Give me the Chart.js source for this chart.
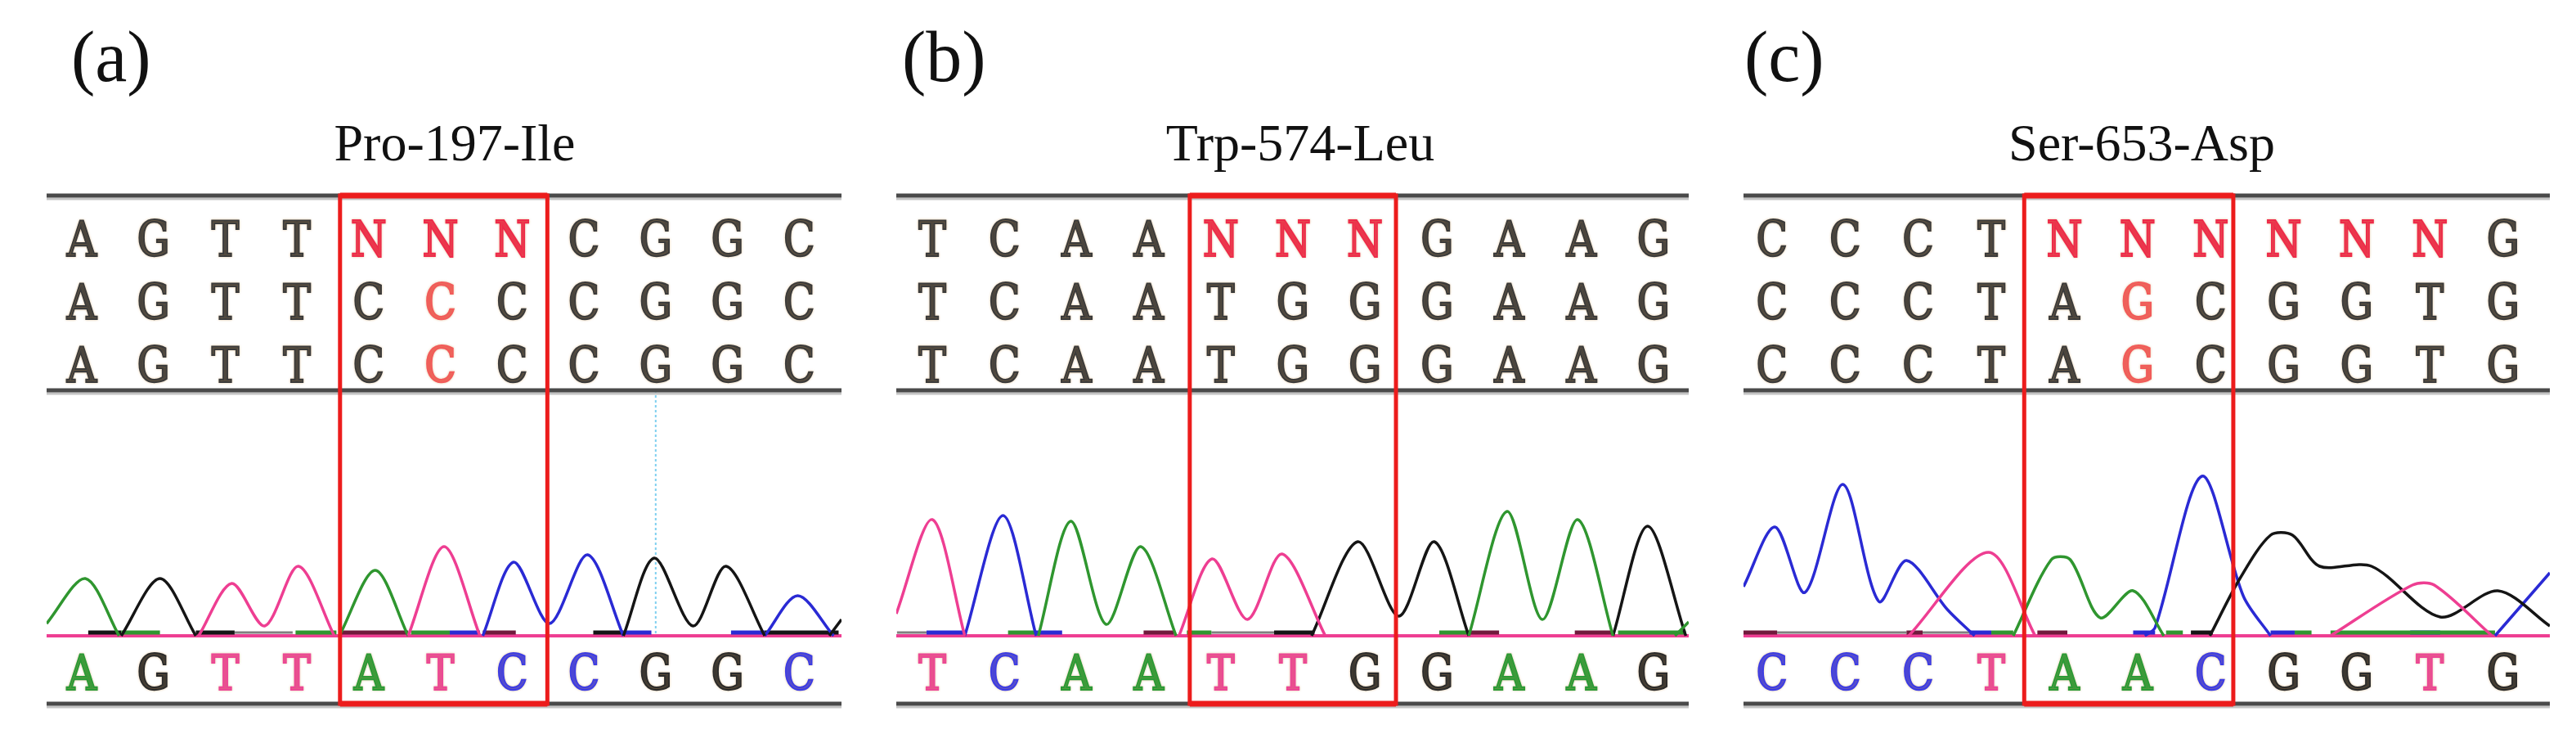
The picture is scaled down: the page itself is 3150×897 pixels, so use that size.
<!DOCTYPE html>
<html>
<head>
<meta charset="utf-8">
<script src="https://cdn.jsdelivr.net/npm/chart.js@4.4.1/dist/chart.umd.min.js"></script>
<style>
  body { margin: 0; background: #fff; width: 3150px; height: 897px; position: relative; overflow: hidden; }
  canvas { position: absolute; }
  .lab { position: absolute; font-family: "Liberation Serif", "Times New Roman", serif; line-height: 1; color: #111; white-space: nowrap; }
  .tag { font-size: 88px; top: 26px; }
  .title { font-size: 64px; top: 143px; width: 600px; text-align: center; }
</style>
</head>
<body>
<div class="lab tag" style="left:87px">(a)</div>
<div class="lab tag" style="left:1103px">(b)</div>
<div class="lab tag" style="left:2133px">(c)</div>
<div class="lab title" style="left:256px">Pro-197-Ile</div>
<div class="lab title" style="left:1290px">Trp-574-Leu</div>
<div class="lab title" style="left:2319px">Ser-653-Asp</div>
<canvas id="chartA"></canvas>
<canvas id="chartB"></canvas>
<canvas id="chartC"></canvas>
<script>
// --- base calls (three reference rows + the read under the trace) ---
const aCalls = ["AGTTNNNCGGC", "AGTTCCCCGGC", "AGTTCCCCGGC"];
const aRead = "AGTTATCCGGC";
const aRedCells = [[1, 5], [2, 5]];
const aMarker = [8];

const bCalls = ["TCAANNNGAAG", "TCAATGGGAAG", "TCAATGGGAAG"];
const bRead = "TCAATTGGAAG";
const bRedCells = [];
const bMarker = [];

const cCalls = ["CCCTNNNNNNG", "CCCTAGCGGTG", "CCCTAGCGGTG"];
const cRead = "CCCTAACGGTG";
const cRedCells = [[1, 5], [2, 5]];
const cMarker = [];

// --- trace peaks: [base position, signal] groups, one array per dye ---
const aTraceA = [[[-0.49, 15], [0.05, 70], [0.52, 0]], [[3.59, 0], [4.09, 80], [4.55, 0]]];
const aTraceG = [[[0.55, 0], [1.09, 70], [1.59, 0]], [[7.55, 0], [7.98, 95], [8.52, 12], [8.98, 85], [9.52, 0]], [[10.42, 0], [10.59, 20]]];
const aTraceT = [[[1.63, 0], [2.09, 64], [2.55, 12], [3.02, 85], [3.52, 0]], [[4.55, 0], [5.05, 109], [5.55, 0]]];
const aTraceC = [[[5.59, 0], [6.02, 90], [6.52, 15], [7.05, 99], [7.55, 0]], [[9.52, 0], [9.98, 49], [10.48, 0]]];

const bTraceA = [[[1.47, 0], [1.92, 140], [2.41, 14], [2.89, 109], [3.38, 0]], [[7.44, 0], [7.97, 152], [8.46, 20], [8.95, 142], [9.44, 0]], [[10.3, 0], [10.49, 17]]];
const bTraceG = [[[5.26, 0], [5.9, 115], [6.47, 24], [6.96, 115], [7.44, 0]], [[9.44, 0], [9.92, 134], [10.45, 0]]];
const bTraceT = [[[-0.5, 27], [0, 142], [0.45, 0]], [[3.42, 0], [3.88, 94], [4.37, 20], [4.85, 100], [5.45, 0]]];
const bTraceC = [[[0.45, 0], [0.98, 147], [1.44, 0]]];

const cTraceA = [[[3.3, 0], [3.82, 93], [4.08, 93], [4.49, 22], [4.94, 55], [5.36, 0]]];
const cTraceG = [[[5.99, 0], [6.4, 70], [6.82, 123], [7.12, 123], [7.49, 85], [8.2, 85], [9.14, 23], [9.93, 55], [10.64, 12]]];
const cTraceT = [[[1.87, 0], [2.96, 102], [3.6, 0]], [[7.64, 0], [8.76, 62], [9.06, 62], [9.85, 0]]];
const cTraceC = [[[-0.39, 60], [0.04, 133], [0.45, 53], [0.97, 185], [1.46, 42], [1.84, 92], [2.4, 32], [2.77, 0]], [[5.1, 0], [5.24, 10], [5.88, 195], [6.45, 48], [6.82, 0]], [[9.89, 0], [10.64, 77]]];

// --- flat stretches of each dye lying on the baseline: [from, to] ---
const aFlatA = [[0.55, 1.09], [2.98, 3.55], [4.59, 5.13]];
const aFlatG = [[0.09, 0.55], [1.59, 2.13], [7.13, 7.55], [9.52, 10.55]];
const aFlatC = [[5.13, 5.55], [7.55, 7.94], [9.05, 9.52]];
const aFlatMix = [[3.59, 4.55], [5.59, 6.05]];
const aFlatGray = [[2.13, 2.94]];

const bFlatA = [[1.05, 1.43], [3.53, 3.87], [7.03, 7.44], [9.51, 10.45]];
const bFlatG = [[4.74, 5.3]];
const bFlatC = [[-0.08, 0.45], [1.43, 1.8]];
const bFlatMix = [[2.93, 3.35], [7.44, 7.86], [8.91, 9.44]];
const bFlatGray = [[-0.49, -0.08], [3.87, 4.74]];

const cFlatA = [[3.0, 3.3], [5.39, 5.62], [7.15, 7.38], [7.64, 9.89]];
const cFlatG = [[5.73, 6.03]];
const cFlatC = [[2.7, 3.0], [4.94, 5.24], [6.82, 7.15], [8.73, 9.14]];
const cFlatMix = [[-0.39, 0.07], [1.84, 2.06], [3.63, 4.04]];
const cFlatGray = [[0.07, 1.84], [2.06, 2.7]];

// layout (px above the trace baseline)
const TOP_LINE = 538, MID_LINE = 300, BOTTOM_LINE = -83;
const ROW_BASE = [464, 387, 310], READ_BASE = -66;
const PANEL_TOP = 239, PAD = 12;

const DYE = { A: "#2f962f", G: "#151515", T: "#ee3e92", C: "#2a2ad4" };
const READ_INK = { A: "#2a9a36", G: "#2b2b2b", T: "#ec4696", C: "#3c3ce4" };
const MIX = "#701a3c", GRAY = "#808080";

const panels = [
  { id: "chartA", left: 57, right: 1029, xMin: -0.49, xMax: 10.59, box: [3.6, 6.49],
    calls: aCalls, read: aRead, red: aRedCells, marker: aMarker,
    traces: { A: aTraceA, G: aTraceG, T: aTraceT, C: aTraceC },
    flats: { A: aFlatA, G: aFlatG, C: aFlatC, mix: aFlatMix, gray: aFlatGray } },
  { id: "chartB", left: 1096, right: 2065, xMin: -0.5, xMax: 10.49, box: [3.57, 6.43],
    calls: bCalls, read: bRead, red: bRedCells, marker: bMarker,
    traces: { A: bTraceA, G: bTraceG, T: bTraceT, C: bTraceC },
    flats: { A: bFlatA, G: bFlatG, C: bFlatC, mix: bFlatMix, gray: bFlatGray } },
  { id: "chartC", left: 2132, right: 3118, xMin: -0.39, xMax: 10.64, box: [3.45, 6.31],
    calls: cCalls, read: cRead, red: cRedCells, marker: cMarker,
    traces: { A: cTraceA, G: cTraceG, T: cTraceT, C: cTraceC },
    flats: { A: cFlatA, G: cFlatG, C: cFlatC, mix: cFlatMix, gray: cFlatGray } },
];

function withGaps(groups) {
  const out = [];
  groups.forEach((g, i) => {
    if (i) out.push([g[0][0], null]);
    out.push(...g);
  });
  return out;
}

function flatSegs(segs, level) {
  const out = [];
  segs.forEach(([s, e]) => out.push([s, level], [e, level], [e, null]));
  return out;
}

function hline(ctx, x0, x1, y) {
  ctx.beginPath();
  ctx.moveTo(x0, y);
  ctx.lineTo(x1, y);
  ctx.stroke();
}

// Courier-ish base letter: normal serif glyph thickened with a thin stroke
function glyph(ctx, ch, x, y, color) {
  ctx.save();
  ctx.translate(x, y);
  ctx.scale(0.84, 1);
  ctx.shadowColor = "rgba(210, 160, 90, 0.45)";
  ctx.shadowBlur = 3;
  ctx.fillStyle = color;
  ctx.strokeStyle = color;
  ctx.lineWidth = 2.2;
  ctx.fillText(ch, 0, 0);
  ctx.strokeText(ch, 0, 0);
  ctx.restore();
}

function seqPlugin(p) {
  return {
    id: "seq",
    beforeDatasetsDraw(chart) {
      const { ctx, scales: { x, y } } = chart;
      ctx.save();
      ctx.strokeStyle = "#7fd0f0";
      ctx.lineWidth = 2;
      ctx.setLineDash([3, 3]);
      p.marker.forEach((m) => {
        const px = x.getPixelForValue(m);
        ctx.beginPath();
        ctx.moveTo(px, y.getPixelForValue(MID_LINE));
        ctx.lineTo(px, y.getPixelForValue(0));
        ctx.stroke();
      });
      ctx.restore();
    },
    afterDatasetsDraw(chart) {
      const { ctx, chartArea: { left, right }, scales: { x, y } } = chart;
      ctx.save();
      // ruled lines
      [TOP_LINE, MID_LINE, BOTTOM_LINE].forEach((v) => {
        const py = y.getPixelForValue(v);
        ctx.strokeStyle = "#c4c4c4";
        ctx.lineWidth = 3;
        hline(ctx, left, right, py + 4);
        ctx.strokeStyle = "#4a4a4a";
        ctx.lineWidth = 5;
        hline(ctx, left, right, py);
      });
      // letters
      ctx.font = '60px "DejaVu Serif"';
      ctx.textAlign = "center";
      ctx.textBaseline = "alphabetic";
      p.calls.forEach((row, r) => {
        const py = y.getPixelForValue(ROW_BASE[r]);
        [...row].forEach((ch, i) => {
          const red = ch === "N" || p.red.some(([rr, cc]) => rr === r && cc === i);
          const col = ch === "N" ? "#ee2a4a" : red ? "#f25a5a" : "#3a3a3a";
          glyph(ctx, ch, x.getPixelForValue(i), py, col);
        });
      });
      const ry = y.getPixelForValue(READ_BASE);
      [...p.read].forEach((ch, i) => glyph(ctx, ch, x.getPixelForValue(i), ry, READ_INK[ch]));
      // codon box
      const bx0 = x.getPixelForValue(p.box[0]), bx1 = x.getPixelForValue(p.box[1]);
      const by0 = y.getPixelForValue(TOP_LINE), by1 = y.getPixelForValue(BOTTOM_LINE);
      ctx.strokeStyle = "#ec1c1c";
      ctx.lineWidth = 5;
      ctx.strokeRect(bx0, by0, bx1 - bx0, by1 - by0);
      ctx.lineWidth = 7;
      hline(ctx, bx0, bx1, by0);
      hline(ctx, bx0, bx1, by1);
      ctx.restore();
    },
  };
}

panels.forEach((p) => {
  const canvas = document.getElementById(p.id);
  const w = p.right - p.left + 2 * PAD;
  const h = TOP_LINE - BOTTOM_LINE + 2 * PAD;
  canvas.width = w;
  canvas.height = h;
  canvas.style.left = (p.left - PAD) + "px";
  canvas.style.top = (PANEL_TOP - PAD) + "px";
  canvas.style.width = w + "px";
  canvas.style.height = h + "px";

  const datasets = [];
  ["T", "A", "G", "C"].forEach((base) => {
    datasets.push({ label: base, data: withGaps(p.traces[base]), borderColor: DYE[base], borderWidth: 3.5, tension: 0.3, order: 1 });
  });
  const flatColors = { A: DYE.A, G: DYE.G, C: DYE.C, mix: MIX, gray: GRAY };
  Object.keys(p.flats).forEach((k) => {
    datasets.push({ label: "flat " + k, data: flatSegs(p.flats[k], 4), borderColor: flatColors[k], borderWidth: k === "gray" ? 3 : 5, tension: 0, order: 2 });
  });
  datasets.push({ label: "baseline", data: [[p.xMin, 0], [p.xMax, 0]], borderColor: DYE.T, borderWidth: 4, tension: 0, order: 3 });

  new Chart(canvas, {
    type: "line",
    data: { datasets },
    options: {
      responsive: false,
      animation: false,
      devicePixelRatio: 1,
      events: [],
      layout: { padding: PAD },
      elements: { point: { radius: 0 }, line: { borderCapStyle: "butt" } },
      spanGaps: false,
      scales: {
        x: { type: "linear", min: p.xMin, max: p.xMax, display: false },
        y: { type: "linear", min: BOTTOM_LINE, max: TOP_LINE, display: false },
      },
      plugins: { legend: { display: false }, tooltip: { enabled: false } },
    },
    plugins: [seqPlugin(p)],
  });
});
</script>
</body>
</html>
